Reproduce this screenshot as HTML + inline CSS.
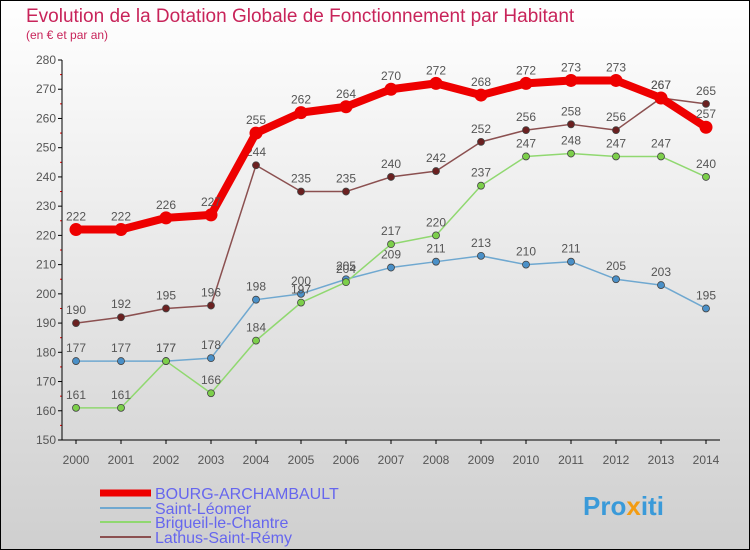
<!DOCTYPE html>
<html><head><meta charset="utf-8"><style>
html,body{margin:0;padding:0}
body{width:750px;height:550px;overflow:hidden;font-family:"Liberation Sans",sans-serif}
svg{display:block}
</style></head><body>
<svg id="chart" width="750" height="550" xmlns="http://www.w3.org/2000/svg">
<defs><linearGradient id="bg" x1="0" y1="0" x2="0" y2="1"><stop offset="0" stop-color="#ffffff"/><stop offset="1" stop-color="#cfcfcf"/></linearGradient></defs>
<rect x="0.5" y="0.5" width="749" height="549" fill="url(#bg)" stroke="#000"/>
<text x="26" y="22" font-size="19" fill="#c8245a">Evolution de la Dotation Globale de Fonctionnement par Habitant</text>
<text x="26" y="39" font-size="12" fill="#c8245a">(en € et par an)</text>
<g id="axes"></g><g id="series"></g>
<g>
<line x1="100" y1="493" x2="151" y2="493" stroke="#e00" stroke-width="7"/>
<text x="155" y="499" font-size="16" fill="#6666ee">BOURG-ARCHAMBAULT</text>
<line x1="100" y1="508" x2="151" y2="508" stroke="#6fa8d0" stroke-width="2"/>
<text x="155" y="514" font-size="16" fill="#6666ee">Saint-Léomer</text>
<line x1="100" y1="522" x2="151" y2="522" stroke="#90d870" stroke-width="2"/>
<text x="155" y="528" font-size="16" fill="#6666ee">Brigueil-le-Chantre</text>
<line x1="100" y1="537" x2="151" y2="537" stroke="#8b5050" stroke-width="2"/>
<text x="155" y="543" font-size="16" fill="#6666ee">Lathus-Saint-Rémy</text>
</g>
<text x="583" y="515" font-size="26" font-weight="bold" fill="#3a9ad9">Pro<tspan fill="#f39c12">x</tspan><tspan fill="#3a9ad9">iti</tspan></text>
</svg>
<script>
const years=[2000,2001,2002,2003,2004,2005,2006,2007,2008,2009,2010,2011,2012,2013,2014];
const yTicks=[150,160,170,180,190,200,210,220,230,240,250,260,270,280];
const bourg=[222,222,226,227,255,262,264,270,272,268,272,273,273,267,257];
const leomer=[177,177,177,178,198,200,205,209,211,213,210,211,205,203,195];
const brigueil=[161,161,177,166,184,197,204,217,220,237,247,248,247,247,240];
const lathus=[190,192,195,196,244,235,235,240,242,252,256,258,256,267,265];
const NS="http://www.w3.org/2000/svg";
function X(i){return 76+i*45;}
function Y(v){return 440-(v-150)*380/130;}
function mk(tag,attrs,parent,text){const e=document.createElementNS(NS,tag);for(const k in attrs)e.setAttribute(k,attrs[k]);if(text!==undefined)e.textContent=text;parent.appendChild(e);return e;}
const axes=document.getElementById('axes'),ser=document.getElementById('series');
yTicks.forEach(t=>{
 const tk=mk('line',{x1:58,x2:62,y1:Y(t),y2:Y(t),stroke:'#000'},axes);
 
 
 const l=mk('text',{x:56,y:Y(t)+4,'font-size':12,'text-anchor':'end',fill:'#555'},axes,t);
 
 
 if(t<280){const m=mk('line',{x1:60,x2:62,y1:Y(t+5),y2:Y(t+5),stroke:'#e00'},axes);
 
 }
});
years.forEach((yr,i)=>{
 const tk=mk('line',{x1:X(i),x2:X(i),y1:440,y2:444,stroke:'#000'},axes);
 
 
 const l=mk('text',{x:X(i),y:464,'font-size':12,'text-anchor':'middle',fill:'#555'},axes,yr);
 
 
});
const ya=mk('line',{x1:62,x2:62,y1:60,y2:440,stroke:'#000'},axes);


const xa=mk('line',{x1:62,x2:720,y1:440,y2:440,stroke:'#000'},axes);


function draw(vals,name,color,dot,w,r){
 const pts=vals.map((v,i)=>X(i)+','+Y(v)).join(' ');
 const pl=mk('polyline',{points:pts,fill:'none',stroke:color,'stroke-width':w,'stroke-linejoin':'round'},ser);
 
 
 vals.forEach((v,i)=>{
  const c=mk('circle',{cx:X(i),cy:Y(v),r:r,fill:dot,stroke:'#444','stroke-width':w>4?0:0.8},ser);
  
  
  const t=mk('text',{x:X(i),y:Y(v)-9,'font-size':12,'text-anchor':'middle',fill:'#555'},ser,v);
  
  
 });
}
draw(leomer,'saint-leomer','#6fa8d0','#4a90c8',1.5,3.5);
draw(brigueil,'brigueil','#90d870','#7ccf4a',1.5,3.5);
draw(lathus,'lathus','#8b5050','#6b2020',1.5,3.5);
draw(bourg,'bourg','#ee0000','#ee0000',8,6.5);
</script>
</body></html>
